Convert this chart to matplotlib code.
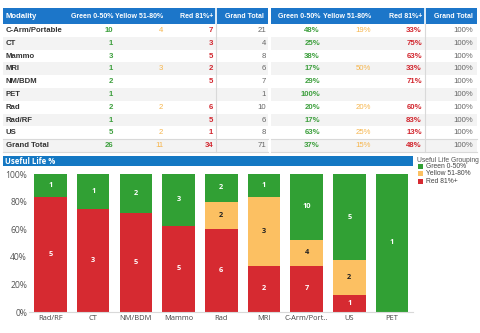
import matplotlib
matplotlib.use("Agg")
import matplotlib.pyplot as plt
from matplotlib.patches import Rectangle

# ---- data -------------------------------------------------------------
modalities = ["C-Arm/Portable", "CT", "Mammo", "MRI", "NM/BDM", "PET",
              "Rad", "Rad/RF", "US"]
green = [10, 1, 3, 1, 2, 1, 2, 1, 5]
yellow = [4, 0, 0, 3, 0, 0, 2, 0, 2]
red = [7, 3, 5, 2, 5, 0, 6, 5, 1]

chart_order = ["Rad/RF", "CT", "NM/BDM", "Mammo", "Rad", "MRI",
               "C-Arm/Portable", "US", "PET"]
chart_labels = ["Rad/RF", "CT", "NM/BDM", "Mammo", "Rad", "MRI",
                "C-Arm/Port..", "US", "PET"]

count_headers = ["Modality", "Green 0-50%", "Yellow 51-80%", "Red 81%+", "Grand Total"]
pct_headers = ["Green 0-50%", "Yellow 51-80%", "Red 81%+", "Grand Total"]
legend_title = "Useful Life Grouping"
legend_labels = ["Green 0-50%", "Yellow 51-80%", "Red 81%+"]
chart_title = "Useful Life %"
y_ticks = [0, 0.2, 0.4, 0.6, 0.8, 1.0]

# ---- styling ----------------------------------------------------------
C_GREEN, C_YELLOW, C_RED = "#31a034", "#fcc062", "#d62a31"
T_GREEN, T_YELLOW, T_RED = "#3d9f3d", "#f6b54c", "#d2262e"
HEAD_BLUE = "#1c76c9"
TITLE_BLUE = "#1478c3"
ROW_GREY = "#f3f3f3"
LINE_GREY = "#d9d9d9"
TXT_DARK = "#333333"
TXT_GREY = "#666666"
TFONT = "Liberation Sans"
CFONT = "Open Sans"

W, H = 480, 333
fig = plt.figure(figsize=(W / 100, H / 100), dpi=100)

# full-figure canvas in pixel units for the tables and banner
canvas = fig.add_axes([0, 0, 1, 1])
canvas.set_xlim(0, W)
canvas.set_ylim(H, 0)
canvas.axis("off")

HEAD_TOP, HEAD_BOT = 8, 24
ROW_H = 12.8


def row_top(i):
    return HEAD_BOT + i * ROW_H


n_rows = len(modalities) + 1  # + grand total
total_row = len(modalities)

tot_g, tot_y, tot_r = sum(green), sum(yellow), sum(red)
row_totals = [g + y + r for g, y, r in zip(green, yellow, red)]
grand = tot_g + tot_y + tot_r


def pct(v, t):
    return int(v * 100 / t + 0.5)


# --- table frames ---
L_X0, L_SEP, L_X1 = 3, 216, 268
R_X0, R_SEP, R_X1 = 271, 425, 477

for (x0, x1) in [(L_X0, L_X1), (R_X0, R_X1)]:
    canvas.add_patch(Rectangle((x0, HEAD_TOP), x1 - x0, HEAD_BOT - HEAD_TOP,
                               facecolor=HEAD_BLUE, edgecolor="none"))
    for i in range(n_rows):
        if i % 2 == 1 or i == total_row:
            canvas.add_patch(Rectangle((x0, row_top(i)), x1 - x0, ROW_H,
                                       facecolor=ROW_GREY, edgecolor="none"))
    canvas.plot([x0, x1], [row_top(total_row)] * 2, color=LINE_GREY, lw=0.8)
    canvas.plot([x0, x1], [row_top(n_rows)] * 2, color=LINE_GREY, lw=0.8)

# white gap in header and separator line before the Grand Total columns
for sep in (L_SEP, R_SEP):
    canvas.plot([sep, sep], [HEAD_TOP, HEAD_BOT], color="white", lw=1.2)
    canvas.plot([sep, sep], [HEAD_BOT, row_top(n_rows)], color=LINE_GREY, lw=0.8)

head_y = (HEAD_TOP + HEAD_BOT) / 2
hkw = dict(color="white", fontweight="bold", family=TFONT, va="center")
canvas.text(6, head_y, count_headers[0], ha="left", fontsize=5.6, **hkw)
left_cols = [113, 163, 213, 264]
for x, h in zip(left_cols, count_headers[1:]):
    canvas.text(x, head_y, h, ha="right", fontsize=5.0, **hkw)
right_cols = [320, 371, 422, 473]
for x, h in zip(right_cols, pct_headers):
    canvas.text(x, head_y, h, ha="right", fontsize=5.0, **hkw)

bkw = dict(family=TFONT, fontsize=5.6, va="center")
rows_g = green + [tot_g]
rows_y = yellow + [tot_y]
rows_r = red + [tot_r]
rows_t = row_totals + [grand]
names = modalities + ["Grand Total"]
for i in range(n_rows):
    yc = row_top(i) + ROW_H / 2
    canvas.text(6, yc, names[i], ha="left", color=TXT_DARK, fontweight="bold", **bkw)
    g, yv, r, t = rows_g[i], rows_y[i], rows_r[i], rows_t[i]
    if g:
        canvas.text(left_cols[0], yc, str(g), ha="right", color=T_GREEN,
                    fontweight="bold", **bkw)
        canvas.text(right_cols[0], yc, f"{pct(g, t)}%", ha="right", color=T_GREEN,
                    fontweight="bold", **bkw)
    if yv:
        canvas.text(left_cols[1], yc, str(yv), ha="right", color=T_YELLOW, **bkw)
        canvas.text(right_cols[1], yc, f"{pct(yv, t)}%", ha="right", color=T_YELLOW, **bkw)
    if r:
        canvas.text(left_cols[2], yc, str(r), ha="right", color=T_RED,
                    fontweight="bold", **bkw)
        canvas.text(right_cols[2], yc, f"{pct(r, t)}%", ha="right", color=T_RED,
                    fontweight="bold", **bkw)
    canvas.text(L_X1 - 2, yc, str(t), ha="right", color=TXT_GREY, **bkw)
    canvas.text(right_cols[3], yc, "100%", ha="right", color=TXT_GREY, **bkw)

# --- chart banner ---
canvas.add_patch(Rectangle((3, 156), 410, 10, facecolor=TITLE_BLUE, edgecolor="none"))
canvas.text(5, 161, chart_title, ha="left", va="center", color="white",
            fontweight="bold", family=CFONT, fontsize=5.6)

# --- stacked bar chart ---
ax = fig.add_axes([29.2 / W, 21 / H, 384.2 / W, 138 / H])
idx = [modalities.index(m) for m in chart_order]
xs = list(range(len(chart_order)))
r_sh, y_sh, g_sh = [], [], []
for k in idx:
    t = row_totals[k]
    r_sh.append(red[k] / t)
    y_sh.append(yellow[k] / t)
    g_sh.append(green[k] / t)
y_bot = r_sh
g_bot = [a + b for a, b in zip(r_sh, y_sh)]

bw = 0.76
ax.bar(xs, r_sh, width=bw, color=C_RED, label=legend_labels[2])
ax.bar(xs, y_sh, width=bw, bottom=y_bot, color=C_YELLOW, label=legend_labels[1])
ax.bar(xs, g_sh, width=bw, bottom=g_bot, color=C_GREEN, label=legend_labels[0])

lkw = dict(ha="center", va="center", fontweight="bold", family=CFONT, fontsize=5.3)
for j, k in enumerate(idx):
    if red[k]:
        ax.text(j, r_sh[j] / 2, str(red[k]), color="white", **lkw)
    if yellow[k]:
        ax.text(j, y_bot[j] + y_sh[j] / 2, str(yellow[k]), color="#222222", **lkw)
    if green[k]:
        ax.text(j, g_bot[j] + g_sh[j] / 2, str(green[k]), color="white", **lkw)

ax.set_xlim(-0.5, len(xs) - 0.5)
ax.set_ylim(0, 1)
ax.set_yticks(y_ticks)
ax.set_yticklabels([f"{int(v * 100)}%" for v in y_ticks], family=CFONT,
                   fontsize=6.2, color="#555555")
ax.set_xticks(xs)
ax.set_xticklabels(chart_labels, family=CFONT, fontsize=5.4, color="#444444")
ax.tick_params(axis="both", length=0)
ax.tick_params(axis="y", pad=1.5)
ax.tick_params(axis="x", pad=2.5)
for s in ("top", "right", "left"):
    ax.spines[s].set_visible(False)
ax.spines["bottom"].set_color(LINE_GREY)
ax.spines["bottom"].set_linewidth(0.8)
ax.set_facecolor("none")

# --- legend ---
canvas.text(417, 160, legend_title, ha="left", va="center", color="#555555",
            family=TFONT, fontsize=4.9)
leg_colors = [C_GREEN, C_YELLOW, C_RED]
for i, (lab, c) in enumerate(zip(legend_labels, leg_colors)):
    yc = 166.5 + i * 7.3
    canvas.add_patch(Rectangle((418, yc - 2.6), 5.2, 5.2, facecolor=c, edgecolor="none"))
    canvas.text(425.5, yc, lab, ha="left", va="center", color="#444444",
                family=TFONT, fontsize=4.9)

fig.savefig("out.png", dpi=100)
